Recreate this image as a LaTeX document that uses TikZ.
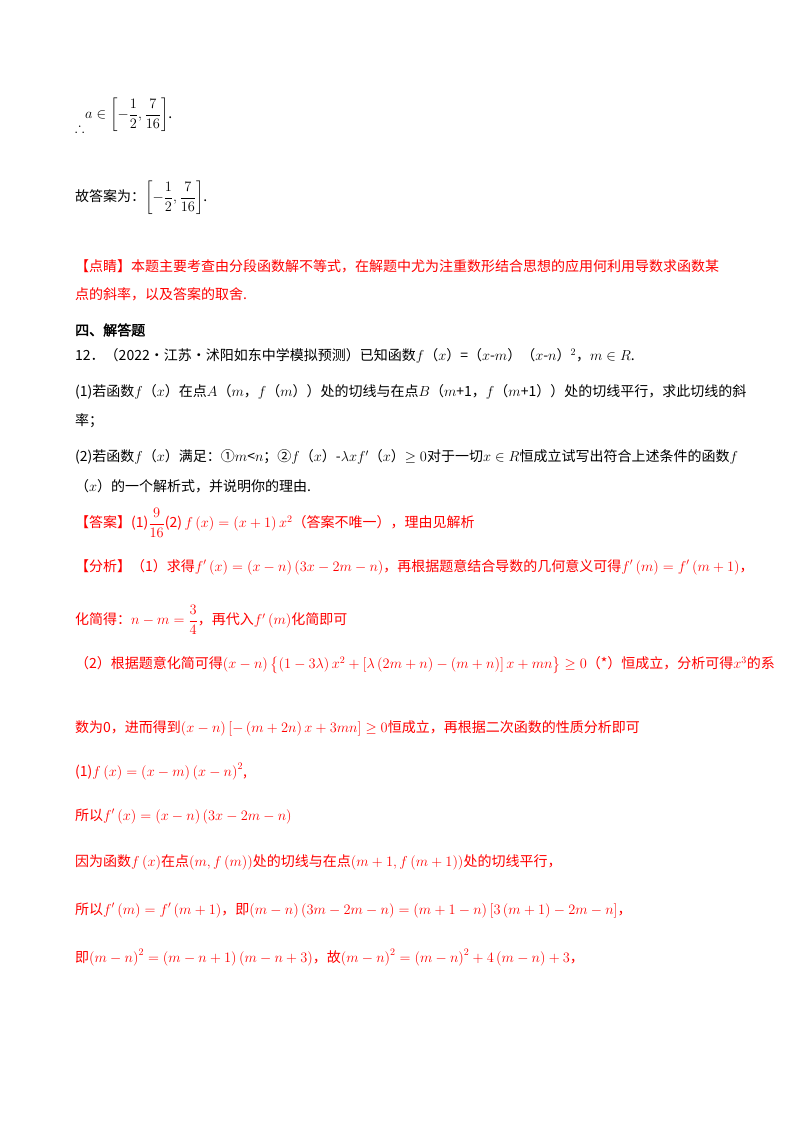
\documentclass[tikz,border=0pt]{standalone}
\usepackage{amsmath,amssymb}
\usepackage{fontspec}
\setmainfont{Noto Sans CJK SC}
\newfontfamily\cjkb[FakeBold=2]{Noto Sans CJK SC}
\definecolor{rd}{RGB}{255,0,0}
\tikzset{ln/.style={anchor=west,inner sep=0pt,font=\fontsize{14}{17}\selectfont},
 red/.style={ln,text=rd}}
\begin{document}
\begin{tikzpicture}[x=1pt,y=-1pt]
\useasboundingbox (0,0) rectangle (800,1132);
\node[ln] (l0) at (75,128) {$\therefore$};
\node[ln] (l1) at (85,115) {$a\in\left[-\dfrac12,\dfrac7{16}\right]$.};
\node[ln] (l2) at (75,198) {故答案为：$\left[-\dfrac12,\dfrac7{16}\right]$.};
\node[red] (l3) at (75,266) {【点睛】本题主要考查由分段函数解不等式，在解题中尤为注重数形结合思想的应用何利用导数求函数某};
\node[red] (l4) at (75,294) {点的斜率，以及答案的取舍.};
\node[ln,font=\fontsize{14}{17}\selectfont\cjkb] (l5) at (75,330) {四、解答题};
\node[ln] (l6) at (75,356) {12．（2022·江苏·沭阳如东中学模拟预测）已知函数$f$（$x$）=（$x$-$m$）（$x$-$n$）$^2$，$m\in R$.};
\node[ln] (l7) at (75,392) {(1)若函数$f$（$x$）在点$A$（$m$，$f$（$m$））处的切线与在点$B$（$m$+1，$f$（$m$+1））处的切线平行，求此切线的斜};
\node[ln] (l8) at (75,421) {率；};
\node[ln] (l9) at (75,457) {(2)若函数$f$（$x$）满足：①$m$<$n$；②$f$（$x$）-$\lambda xf'$（$x$）$\geq0$对于一切$x\in R$恒成立试写出符合上述条件的函数$f$};
\node[ln] (l10) at (75,486) {（$x$）的一个解析式，并说明你的理由.};
\node[red] (l11) at (75,523) {【答案】(1)$\dfrac9{16}$(2)\,$f\left(x\right)=\left(x+1\right)x^2$（答案不唯一），理由见解析};
\node[red] (l12) at (75,567) {【分析】（1）求得$f'\left(x\right)=\left(x-n\right)\left(3x-2m-n\right)$，再根据题意结合导数的几何意义可得$f'\left(m\right)=f'\left(m+1\right)$，};
\node[red] (l13) at (75,620) {化简得：$n-m=\dfrac34$，再代入$f'\left(m\right)$化简即可};
\node[red] (l14) at (75,665) {（2）根据题意化简可得$\left(x-n\right)\left\{\left(1-3\lambda\right)x^2+\left[\lambda\left(2m+n\right)-\left(m+n\right)\right]x+mn\right\}\geq0$（*）恒成立，分析可得$x^3$的系};
\node[red] (l15) at (75,728) {数为0，进而得到$\left(x-n\right)\left[-\left(m+2n\right)x+3mn\right]\geq0$恒成立，再根据二次函数的性质分析即可};
\node[red] (l16) at (75,772) {(1)$f\left(x\right)=\left(x-m\right)\left(x-n\right)^2$,};
\node[red] (l17) at (75,816) {所以$f'\left(x\right)=\left(x-n\right)\left(3x-2m-n\right)$};
\node[red] (l18) at (75,862) {因为函数$f\left(x\right)$在点$\left(m,f\left(m\right)\right)$处的切线与在点$\left(m+1,f\left(m+1\right)\right)$处的切线平行，};
\node[red] (l19) at (75,910) {所以$f'\left(m\right)=f'\left(m+1\right)$，即$\left(m-n\right)\left(3m-2m-n\right)=\left(m+1-n\right)\left[3\left(m+1\right)-2m-n\right]$，};
\node[red] (l20) at (75,958) {即$\left(m-n\right)^2=\left(m-n+1\right)\left(m-n+3\right)$，故$\left(m-n\right)^2=\left(m-n\right)^2+4\left(m-n\right)+3$，};
\end{tikzpicture}
\end{document}
